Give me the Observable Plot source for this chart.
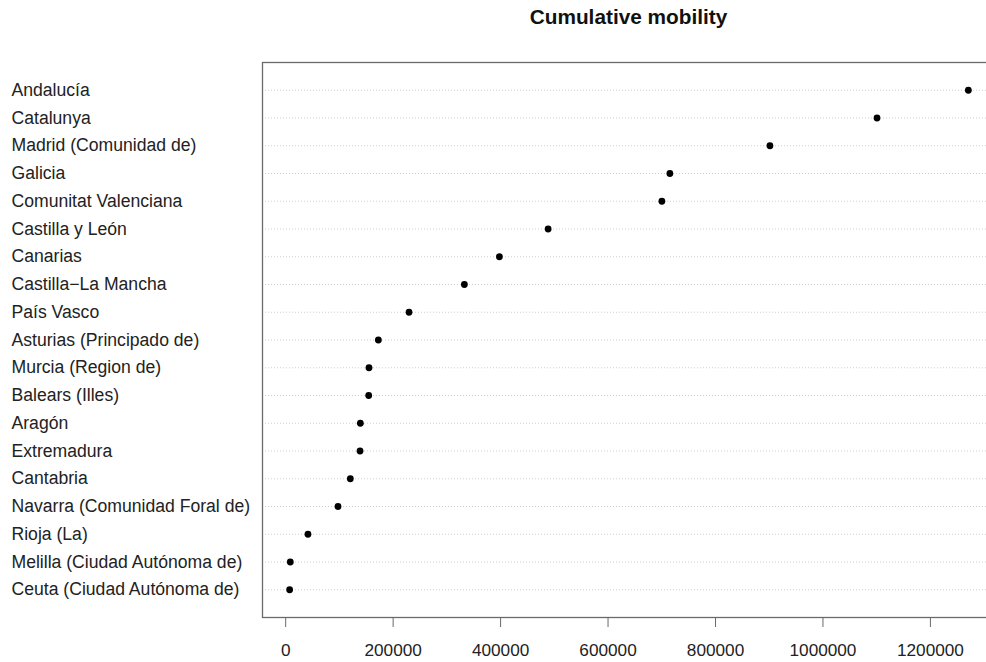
<!DOCTYPE html>
<html>
<head>
<meta charset="utf-8">
<script src="https://cdn.jsdelivr.net/npm/d3@7"></script>
<script src="https://cdn.jsdelivr.net/npm/@observablehq/plot@0.6"></script>
<style>
  html, body { margin: 0; padding: 0; background: #fff; overflow: hidden; width: 986px; height: 662px; }
  #wrap { width: 1000px; font-family: "Liberation Sans", Arial, Helvetica, sans-serif; }
  #title { box-sizing: border-box; width: 1000px; padding-left: 262px; padding-right: 5px; height: 34px; line-height: 34px; text-align: center; font-weight: bold; font-size: 20.8px; color: #111; }
  svg { overflow: visible; }
</style>
</head>
<body>
<div id="wrap">
  <div id="title">Cumulative mobility</div>
  <div id="chart"></div>
</div>
<script>
const regions = [
  "Andalucía",
  "Catalunya",
  "Madrid (Comunidad de)",
  "Galicia",
  "Comunitat Valenciana",
  "Castilla y León",
  "Canarias",
  "Castilla\u2212La Mancha",
  "País Vasco",
  "Asturias (Principado de)",
  "Murcia (Region de)",
  "Balears (Illes)",
  "Aragón",
  "Extremadura",
  "Cantabria",
  "Navarra (Comunidad Foral de)",
  "Rioja (La)",
  "Melilla (Ciudad Autónoma de)",
  "Ceuta (Ciudad Autónoma de)"
];
const mobility = [
  1270600, 1100600, 901300, 715100, 700200, 488500, 397800, 332600, 229600,
  172500, 155100, 154500, 139000, 138400, 120300, 97400, 41500, 8600, 7400
];
const xTicks = [0, 200000, 400000, 600000, 800000, 1000000, 1200000];

const data = regions.map((r, i) => ({region: r, value: mobility[i]}));
const lo = d3.min(mobility), hi = d3.max(mobility);
const ext = (hi - lo) * 0.04;

const chart = Plot.plot({
  width: 1000,
  height: 628,
  marginLeft: 262,
  marginRight: 5,
  marginTop: 28,
  marginBottom: 45,
  style: {fontFamily: "'Liberation Sans', Arial, Helvetica, sans-serif", fontSize: "17px", color: "#222", background: "#fff"},
  x: {domain: [lo - ext, hi + ext], ticks: xTicks, tickFormat: d3.format("d"), axis: null},
  y: {type: "point", domain: regions, padding: 1, round: false, axis: null},
  marks: [
    Plot.ruleY(data, {y: "region", stroke: "#cfcfcf", strokeDasharray: "1,2", strokeWidth: 1}),
    Plot.frame({stroke: "#6a6a6a", strokeWidth: 1.3}),
    Plot.axisX({ticks: xTicks, tickFormat: d3.format("d"), tickSize: 10, tickPadding: 16, stroke: "#6a6a6a", label: null, fontSize: 17.2, fill: "#222"}),
    Plot.text(data, {y: "region", text: "region", frameAnchor: "left", textAnchor: "start", dx: -251, fontSize: 17.6, fill: "#222"}),
    Plot.dot(data, {x: "value", y: "region", r: 3.4, fill: "#000", stroke: "none"})
  ]
});
document.getElementById("chart").appendChild(chart);
</script>
</body>
</html>
